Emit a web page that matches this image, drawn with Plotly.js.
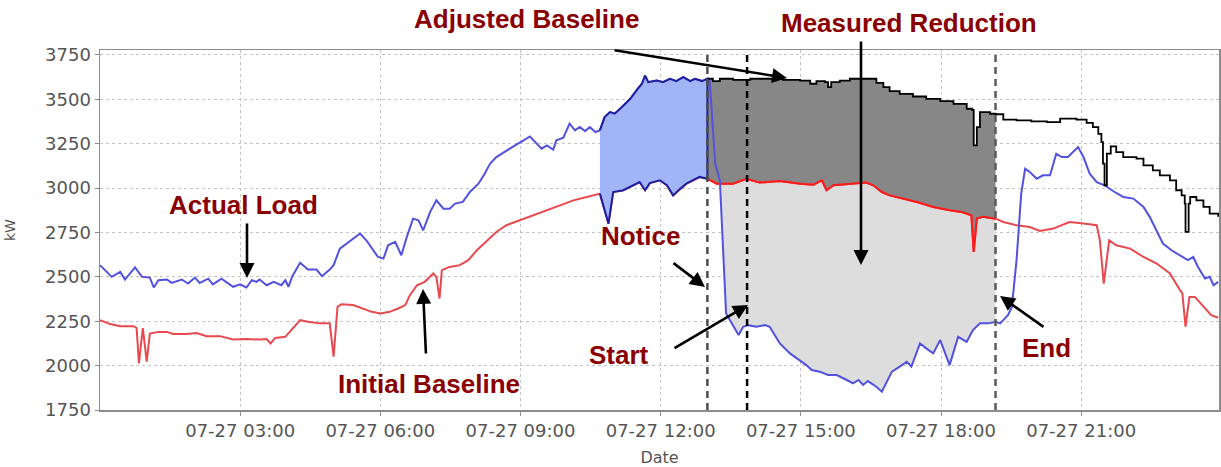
<!DOCTYPE html>
<html><head><meta charset="utf-8">
<script src="https://cdn.plot.ly/plotly-3.0.1.min.js"></script>
<style>html,body{margin:0;padding:0;background:#fff}#chart{width:1221px;height:467px}</style>
</head><body><div id="chart"></div>
<script>
const DAY = '2012-07-27';

const actualTime = ['00:00','00:15','00:26','00:32','00:45','00:54','01:04','01:09','01:15','01:26','01:32','01:45','01:53','02:02','02:08','02:19','02:25','02:36','02:51','03:00','03:08','03:15','03:21','03:25','03:34','03:43','03:53','03:58','04:02','04:07','04:17','04:27','04:38','04:45','04:55','05:00','05:08','05:17','05:34','05:42','05:57','06:04','06:10','06:19','06:27','06:34','06:42','06:49','06:55','07:04','07:12','07:21','07:29','07:36','07:46','07:55','08:06','08:14','08:21','08:29','08:42','08:53','09:04','09:12','09:19','09:27','09:34','09:42','09:46','09:55','10:03','10:10','10:16','10:23','10:29','10:36','10:42','10:48','10:55','11:01','11:10','11:21','11:29','11:36','11:40','11:44','11:55','12:03','12:12','12:20','12:29','12:38','12:44','12:53','13:00','13:03','13:10','13:16','13:24','13:29','13:40','13:46','13:52','14:03','14:14','14:20','14:33','14:46','14:59','15:07','15:14','15:24','15:35','15:46','15:59','16:07','16:14','16:20','16:26','16:33','16:37','16:44','16:50','16:57','17:07','17:16','17:22','17:33','17:41','17:50','17:59','18:11','18:22','18:33','18:41','18:50','19:01','19:10','19:16','19:26','19:31','19:37','19:43','19:48','19:54','20:03','20:11','20:20','20:28','20:35','20:43','20:56','21:03','21:11','21:20','21:30','21:43','21:54','22:07','22:20','22:28','22:37','22:45','22:56','23:07','23:17','23:24','23:30','23:39','23:45','23:50','23:56'];
const actualKW = [2566,2500,2528,2485,2553,2500,2496,2440,2481,2485,2466,2485,2462,2496,2466,2490,2458,2490,2444,2458,2440,2481,2472,2485,2453,2472,2453,2481,2444,2504,2579,2541,2541,2504,2541,2566,2659,2688,2744,2706,2612,2603,2678,2697,2622,2725,2828,2819,2762,2866,2931,2884,2884,2913,2922,2978,3025,3081,3138,3175,3212,3241,3269,3291,3259,3222,3241,3216,3269,3284,3363,3325,3344,3321,3344,3316,3325,3400,3428,3419,3456,3503,3550,3588,3634,3597,3606,3597,3616,3603,3625,3603,3616,3603,3616,3606,3138,3044,2294,2256,2172,2219,2228,2219,2228,2219,2125,2069,2031,2003,1975,1966,1947,1947,1919,1900,1919,1891,1913,1891,1881,1853,1909,1966,1994,2022,1994,2125,2097,2069,2144,2003,2162,2134,2200,2238,2238,2247,2238,2284,2331,2594,2969,3109,3091,3053,3072,3072,3194,3175,3175,3231,3175,3081,3034,3016,2978,2950,2941,2894,2838,2762,2688,2650,2622,2594,2612,2556,2491,2500,2453,2472];

const initialTime = ['00:00','00:13','00:26','00:43','00:47','00:50','00:55','01:00','01:04','01:15','01:26','01:34','01:51','02:04','02:17','02:34','02:51','03:08','03:25','03:34','03:39','03:45','03:58','04:06','04:17','04:27','04:42','04:55','05:00','05:05','05:10','05:25','05:38','05:49','06:00','06:12','06:23','06:32','06:38','06:47','06:57','07:08','07:12','07:16','07:19','07:29','07:42','07:53','08:04','08:17','08:29','08:42','08:59','09:16','09:34','09:51','10:08','10:25','10:42','10:53','10:59','11:12','11:25','11:33','11:40','11:46','11:59','12:08','12:16','12:25','12:33','12:42','12:50','13:00','13:12','13:33','13:50','14:07','14:33','14:59','15:16','15:27','15:33','15:42','16:03','16:24','16:33','16:44','16:54','17:07','17:29','17:50','18:11','18:26','18:39','18:42','18:46','18:54','19:10','19:20','19:37','19:54','20:07','20:24','20:45','21:03','21:20','21:24','21:29','21:36','21:45','22:03','22:20','22:37','22:54','23:07','23:10','23:14','23:19','23:26','23:37','23:47','23:56'];
const initialKW = [2256,2234,2222,2222,2212,2013,2212,2022,2181,2190,2190,2178,2178,2184,2166,2166,2147,2150,2147,2150,2125,2156,2162,2200,2256,2247,2238,2238,2050,2331,2346,2341,2322,2303,2294,2303,2322,2341,2397,2453,2472,2519,2500,2378,2538,2556,2566,2594,2650,2706,2753,2791,2819,2847,2875,2903,2931,2950,2969,2800,2978,2988,3016,3034,2988,3028,3044,3016,2959,2997,3025,3044,3063,3053,3025,3025,3053,3031,3040,3025,3019,3044,2988,3016,3025,3031,3016,2978,2959,2946,2922,2894,2875,2866,2847,2641,2828,2838,2828,2809,2791,2781,2759,2772,2809,2800,2791,2706,2462,2706,2678,2659,2612,2575,2519,2425,2406,2219,2387,2387,2331,2284,2270];

const adjustedTime = ['13:00','13:07','13:16','13:33','13:55','14:16','14:37','14:59','15:12','15:20','15:31','15:35','15:39','15:50','16:03','16:29','16:37','16:46','16:54','17:07','17:24','17:41','17:59','18:16','18:33','18:40','18:42','18:46','18:50','19:03','19:10','19:20','19:37','19:56','20:16','20:33','20:54','21:07','21:15','21:22','21:26','21:28','21:30','21:33','21:38','21:45','21:54','22:11','22:20','22:32','22:41','22:54','23:02','23:09','23:13','23:14','23:18','23:20','23:28','23:37','23:45','23:56'];
const adjustedKW = [3616,3603,3616,3610,3616,3616,3610,3606,3588,3603,3597,3569,3597,3606,3616,3616,3593,3569,3546,3531,3516,3503,3490,3475,3447,3440,3241,3344,3428,3419,3416,3386,3381,3376,3372,3391,3386,3367,3344,3306,3259,3138,3016,3194,3235,3203,3175,3166,3128,3100,3072,3044,2988,2959,2913,2753,2913,2950,2931,2894,2856,2838];

const adjWindowStart = '10:42';
const noticeTime = '13:00';
const startTime = '13:51';
const endTime = '19:10';
const xRange = ['00:00', '23:57'];
const xTickTimes = ['03:00','06:00','09:00','12:00','15:00','18:00','21:00'];
const xTickLabels = ['07-27 03:00','07-27 06:00','07-27 09:00','07-27 12:00','07-27 15:00','07-27 18:00','07-27 21:00'];
const yTickVals = [1750,2000,2250,2500,2750,3000,3250,3500,3750];
const yRange = [1750, 3778];

function ts(t){ return DAY + ' ' + t; }
function mins(t){ const p = t.split(':').map(Number); return p[0]*60 + p[1]; }
function slice(times, vals, a, b){
  const A = mins(a), B = mins(b), x = [], y = [];
  times.forEach((t,i)=>{ const m = mins(t); if (m >= A && m <= B){ x.push(ts(t)); y.push(vals[i]); } });
  return {x, y};
}
function poly(up, low){
  return {x: up.x.concat(low.x.slice().reverse()), y: up.y.concat(low.y.slice().reverse())};
}

const actWin = slice(actualTime, actualKW, noticeTime, endTime);
const iniWin = slice(initialTime, initialKW, noticeTime, endTime);
const adjWin = slice(adjustedTime, adjustedKW, noticeTime, endTime);
const bluePoly = poly(slice(actualTime, actualKW, adjWindowStart, noticeTime),
                      slice(initialTime, initialKW, adjWindowStart, noticeTime));

const none = {width: 0, color: 'rgba(0,0,0,0)'};
const traces = [
  {x: actWin.x, y: actWin.y, mode: 'lines', line: none},
  {x: iniWin.x, y: iniWin.y, mode: 'lines', line: none, fill: 'tonexty', fillcolor: '#dddddd'},
  {x: iniWin.x, y: iniWin.y, mode: 'lines', line: none},
  {x: adjWin.x, y: adjWin.y, mode: 'lines', line: {width: 0, shape: 'hv', color: 'rgba(0,0,0,0)'}, fill: 'tonexty', fillcolor: '#878787'},
  {x: initialTime.map(ts), y: initialKW, mode: 'lines', line: {color: '#e8494e', width: 2}},
  {x: iniWin.x, y: iniWin.y, mode: 'lines', line: {color: '#ff1a1a', width: 2}},
  {x: actualTime.map(ts), y: actualKW, mode: 'lines', line: {color: '#5252de', width: 2}},
  {x: adjustedTime.map(ts), y: adjustedKW, mode: 'lines', line: {color: '#000000', width: 1.8, shape: 'hv'}},
  {x: bluePoly.x, y: bluePoly.y, mode: 'lines', fill: 'toself', fillcolor: '#a0b4f6', line: {color: '#1e1ea0', width: 2}}
];

const W = 1119, H = 360, L = 100, T = 50;
function px(x){ return (x - L) / W; }
function py(y){ return (T + H - y) / H; }

const red = '#8a0000';
const labelFont = {family: 'Liberation Sans, Arial, sans-serif', size: 26, color: red};
function label(text, cx, cy){
  return {text: '<b>' + text + '</b>', xref: 'paper', yref: 'paper', x: px(cx), y: py(cy),
          xanchor: 'center', yanchor: 'middle', showarrow: false, font: labelFont};
}
function arrow(hx, hy, tx, ty){
  return {text: '', xref: 'paper', yref: 'paper', x: px(hx), y: py(hy), ax: tx - hx, ay: ty - hy,
          showarrow: true, arrowhead: 2, arrowsize: 1.15, arrowwidth: 2.6, arrowcolor: '#000', standoff: 0};
}

const annotations = [
  label('Adjusted Baseline', 526, 19),
  label('Measured Reduction', 909, 23),
  label('Actual Load', 243, 205),
  label('Initial Baseline', 429, 384),
  label('Notice', 640, 236),
  label('Start', 619, 355),
  label('End', 1046, 348),
  arrow(787, 78, 613, 50),
  arrow(861, 265, 861, 40),
  arrow(247, 278, 247, 222),
  arrow(423, 289, 426, 355),
  arrow(705, 287, 672, 262),
  arrow(748, 305, 673, 349),
  arrow(1000, 296, 1045, 328)
];

function vline(t, color){
  return {type: 'line', xref: 'x', yref: 'paper', x0: ts(t), x1: ts(t), y0: 0, y1: 1, layer: 'above',
          line: {color: color, width: 2.5, dash: '7px,5px'}};
}

const tickFont = {family: 'DejaVu Sans, sans-serif', size: 18, color: '#555'};
const layout = {
  width: 1221, height: 467,
  margin: {l: L, r: 2, t: T, b: 57},
  paper_bgcolor: '#ffffff', plot_bgcolor: '#ffffff',
  showlegend: false,
  xaxis: {
    type: 'date', range: xRange.map(ts),
    tickvals: xTickTimes.map(ts), ticktext: xTickLabels,
    showgrid: true, gridcolor: '#c4c4c4', griddash: 'dot', gridwidth: 1,
    showline: true, mirror: true, linecolor: '#8c8c8c', linewidth: 1.5,
    ticks: 'outside', ticklen: 4, tickcolor: '#8c8c8c',
    tickfont: tickFont, zeroline: false,
    title: {text: 'Date', font: {family: 'DejaVu Sans, sans-serif', size: 16, color: '#555'}, standoff: 12}
  },
  yaxis: {
    range: yRange, tickvals: yTickVals,
    showgrid: true, gridcolor: '#c4c4c4', griddash: 'dot', gridwidth: 1,
    showline: true, mirror: true, linecolor: '#8c8c8c', linewidth: 1.5,
    ticks: 'outside', ticklen: 4, tickcolor: '#8c8c8c',
    tickfont: tickFont, zeroline: false,
    title: {text: 'kW', font: {family: 'DejaVu Sans, sans-serif', size: 14, color: '#555'}, standoff: 26}
  },
  shapes: [vline(noticeTime, '#4d4d4d'), vline(startTime, '#000000'), vline(endTime, '#5a5a5a')],
  annotations: annotations
};

Plotly.newPlot('chart', traces, layout, {staticPlot: true, displayModeBar: false});
</script>
</body></html>
